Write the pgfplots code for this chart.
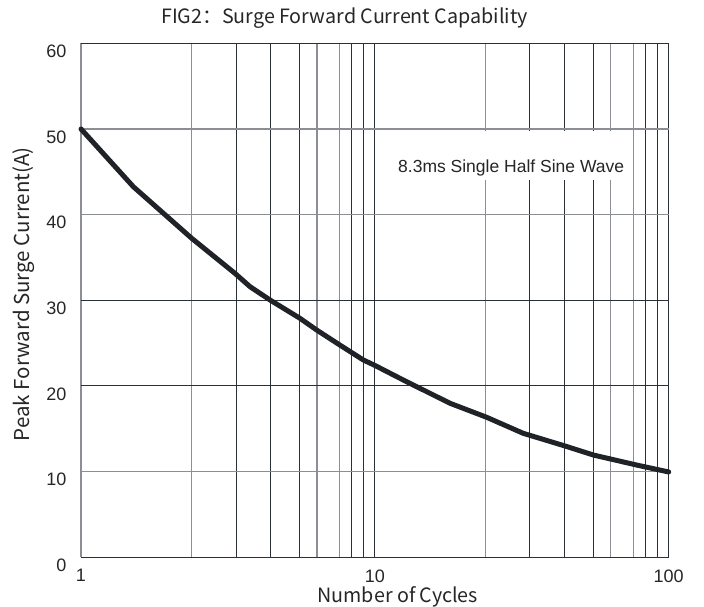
\documentclass[border=0pt]{standalone}
\usepackage{pgfplots}
\pgfplotsset{compat=1.18}
\usepackage{fontspec}
\setmainfont{Liberation Sans}
\newfontfamily\cjk{Noto Sans CJK SC}
\definecolor{dk}{HTML}{2B2F36}
\definecolor{gr}{HTML}{8B8E92}
\definecolor{crv}{HTML}{1F2328}
\begin{document}
\begin{tikzpicture}
\useasboundingbox (-81pt,-49.7pt) rectangle (623pt,557.3pt);
\begin{axis}[
  at={(0pt,0pt)}, anchor=south west,
  scale only axis, width=587.7pt, height=514pt,
  xmode=log, xmin=1, xmax=100, ymin=0, ymax=60,
  axis line style={draw=none},
  major tick length=0pt, minor tick length=0pt,
  xtick={3.37,4.42,5.53,8.36,9.14,10,33.7,44.2,55.3,83.6,91.4,100},
  xticklabels={,,,,,10,,,,,,100},
  minor xtick={1,2.38,6.35,7.59,23.8,63.5,75.9},
  extra x ticks={1}, extra x tick labels={1},
  extra x tick style={grid=none},
  ytick={0,20,30,60},
  minor ytick={10,40,50},
  extra y ticks={10,40,50},
  extra y tick style={grid=none},
  xmajorgrids, xminorgrids, ymajorgrids, yminorgrids,
  major grid style={draw=dk, line width=1pt},
  minor grid style={draw=gr, line width=1.3pt},
  /pgf/number format/assume math mode=true,
  ticklabel style={font=\fontsize{18}{20}\selectfont, text=black!85},
  xticklabel style={anchor=north, inner sep=0pt, yshift=-12pt},
  yticklabel style={anchor=east, inner sep=0pt, xshift=-14.3pt, yshift=-8pt},
  clip=false,
]
\fill[white] (axis cs:10.15,44.1) rectangle (axis cs:73.5,49.75);
\node[font=\fontsize{17.5}{20}\selectfont, text=black!85] at (axis cs:29.1,45.4) {8.3ms Single Half Sine Wave};
\addplot[crv, line width=5pt, line join=round, line cap=round] coordinates {
(1,50) (1.507,43.26) (2.38,37.24) (3.34,33.15) (3.76,31.59) (4.40,30.03)
(5.56,27.90) (6.34,26.53) (7.60,24.78) (9.14,23.03) (10,22.4) (12.18,20.89)
(13.52,20.11) (18.02,17.98) (24.03,16.34) (32.0,14.47) (44.4,12.99)
(55.4,11.94) (77.8,10.77) (100,9.96)
};
\end{axis}
\node[font=\cjk\fontsize{19.7}{22}\selectfont, text=black!85] at (263.5pt,539.3pt) {FIG2：Surge Forward Current Capability};
\node[font=\cjk\fontsize{19.7}{22}\selectfont, text=black!85] at (316.8pt,-39.5pt) {Number of Cycles};
\node[font=\cjk\fontsize{20.5}{22}\selectfont, text=black!85, rotate=90] at (-57pt,263.1pt) {Peak Forward Surge Current(A)};
\end{tikzpicture}
\end{document}
